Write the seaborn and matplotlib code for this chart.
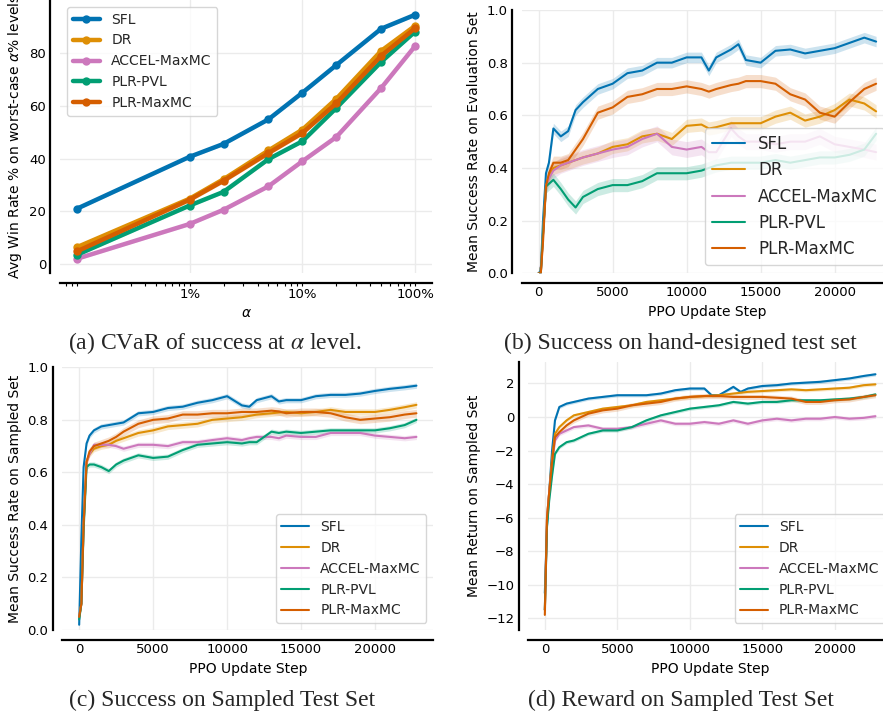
import matplotlib
matplotlib.use('Agg')
import matplotlib.pyplot as plt
import matplotlib.ticker as mticker
import seaborn as sns
import numpy as np
import pandas as pd

methods = ['SFL', 'DR', 'ACCEL-MaxMC', 'PLR-PVL', 'PLR-MaxMC']
colors = ['#0173b2', '#de8f05', '#cc78bc', '#029e73', '#d55e00']

# (a) CVaR of success, alpha in percent
alphas = [0.1, 1, 2, 5, 10, 20, 50, 100]
cvar_sfl = [21.0, 40.7, 45.6, 54.9, 65.0, 75.5, 89.3, 94.6]
cvar_dr = [6.4, 24.8, 32.2, 43.1, 51.0, 62.7, 80.9, 90.4]
cvar_accel = [2.0, 15.2, 20.6, 29.5, 39.0, 48.2, 66.8, 82.7]
cvar_pvl = [3.5, 22.2, 27.4, 39.8, 46.6, 59.2, 76.7, 88.2]
cvar_maxmc = [4.8, 24.4, 31.6, 42.1, 49.7, 61.0, 79.0, 89.5]
cvar_band = [0.6, 0.8, 0.6, 0.6, 0.8]

# PPO update steps shared by (b), (c), (d)
steps = [0, 150, 300, 500, 700, 1000, 1500, 2000, 2500, 3000, 4000, 5000,
         6000, 7000, 8000, 9000, 10000, 11000, 11500, 12000, 13000, 13500,
         14000, 15000, 16000, 17000, 18000, 19000, 20000, 21000, 22000, 22800]

# (b) success on hand-designed evaluation set
eval_sfl = [0.0, 0.01, 0.20, 0.38, 0.42, 0.55, 0.52, 0.54, 0.62, 0.65, 0.70, 0.72,
            0.76, 0.77, 0.80, 0.80, 0.82, 0.82, 0.77, 0.82, 0.85, 0.87,
            0.81, 0.80, 0.845, 0.85, 0.835, 0.845, 0.855, 0.875, 0.895, 0.88]
eval_dr = [0.0, 0.0, 0.15, 0.33, 0.37, 0.40, 0.41, 0.42, 0.43, 0.44, 0.455, 0.48,
           0.49, 0.52, 0.53, 0.51, 0.56, 0.565, 0.55, 0.555, 0.57, 0.57,
           0.57, 0.57, 0.595, 0.61, 0.58, 0.595, 0.62, 0.66, 0.645, 0.615]
eval_accel = [0.0, 0.0, 0.15, 0.33, 0.36, 0.39, 0.41, 0.42, 0.43, 0.44, 0.455, 0.47,
              0.48, 0.51, 0.53, 0.48, 0.47, 0.48, 0.46, 0.46, 0.55, 0.52,
              0.50, 0.50, 0.49, 0.50, 0.50, 0.52, 0.49, 0.48, 0.47, 0.46]
eval_pvl = [0.0, 0.0, 0.15, 0.33, 0.34, 0.355, 0.32, 0.28, 0.25, 0.29, 0.32, 0.335,
            0.335, 0.35, 0.38, 0.38, 0.38, 0.39, 0.40, 0.41, 0.42, 0.42,
            0.42, 0.42, 0.43, 0.42, 0.43, 0.44, 0.44, 0.45, 0.47, 0.53]
eval_maxmc = [0.0, 0.0, 0.12, 0.33, 0.38, 0.42, 0.42, 0.43, 0.47, 0.51, 0.61, 0.63,
              0.67, 0.68, 0.70, 0.70, 0.71, 0.70, 0.69, 0.70, 0.715, 0.72,
              0.73, 0.73, 0.72, 0.68, 0.66, 0.61, 0.595, 0.65, 0.70, 0.72]
eval_band = [0.02, 0.025, 0.03, 0.025, 0.025]

# (c) success on sampled test set
samp_sfl = [0.02, 0.35, 0.62, 0.71, 0.74, 0.76, 0.775, 0.78, 0.785, 0.79, 0.825, 0.83,
            0.845, 0.85, 0.865, 0.875, 0.89, 0.855, 0.85, 0.875, 0.89, 0.87,
            0.875, 0.875, 0.89, 0.895, 0.895, 0.90, 0.91, 0.918, 0.924, 0.93]
samp_dr = [0.05, 0.10, 0.40, 0.64, 0.67, 0.69, 0.70, 0.705, 0.72, 0.73, 0.75, 0.76,
           0.775, 0.78, 0.785, 0.80, 0.805, 0.81, 0.815, 0.82, 0.825, 0.828,
           0.83, 0.825, 0.83, 0.838, 0.83, 0.83, 0.83, 0.838, 0.848, 0.857]
samp_accel = [0.05, 0.10, 0.40, 0.64, 0.67, 0.705, 0.705, 0.705, 0.70, 0.69, 0.705, 0.705,
              0.70, 0.715, 0.715, 0.723, 0.73, 0.723, 0.73, 0.735, 0.735, 0.73,
              0.74, 0.735, 0.735, 0.75, 0.75, 0.75, 0.74, 0.735, 0.73, 0.735]
samp_pvl = [0.04, 0.10, 0.38, 0.62, 0.63, 0.63, 0.62, 0.605, 0.63, 0.645, 0.665, 0.655,
            0.66, 0.685, 0.705, 0.71, 0.715, 0.71, 0.715, 0.715, 0.755, 0.75,
            0.755, 0.75, 0.755, 0.76, 0.76, 0.76, 0.76, 0.768, 0.78, 0.80]
samp_maxmc = [0.05, 0.10, 0.40, 0.64, 0.68, 0.70, 0.71, 0.72, 0.735, 0.755, 0.785, 0.80,
              0.805, 0.82, 0.82, 0.825, 0.825, 0.83, 0.83, 0.83, 0.835, 0.832,
              0.825, 0.83, 0.83, 0.825, 0.81, 0.80, 0.805, 0.81, 0.82, 0.825]
samp_band = [0.01, 0.012, 0.01, 0.01, 0.015]

# (d) return on sampled test set
ret_sfl = [-10.5, -6.5, -4.5, -2.0, -0.2, 0.6, 0.8, 0.9, 1.0, 1.1, 1.2, 1.3,
           1.3, 1.3, 1.4, 1.6, 1.7, 1.7, 1.3, 1.3, 1.8, 1.5,
           1.7, 1.85, 1.9, 2.0, 2.05, 2.1, 2.2, 2.3, 2.45, 2.55]
ret_dr = [-11.5, -6.0, -4.5, -2.5, -1.0, -0.6, -0.2, 0.1, 0.2, 0.3, 0.5, 0.6,
          0.7, 0.9, 1.0, 1.1, 1.2, 1.25, 1.28, 1.3, 1.4, 1.45,
          1.5, 1.55, 1.6, 1.65, 1.6, 1.65, 1.7, 1.75, 1.9, 1.95]
ret_accel = [-11.5, -6.0, -4.5, -2.8, -1.4, -1.0, -0.8, -0.6, -0.55, -0.5, -0.7, -0.7,
             -0.6, -0.4, -0.2, -0.4, -0.4, -0.3, -0.35, -0.4, -0.2, -0.3,
             -0.4, -0.2, -0.1, -0.2, -0.1, -0.1, 0.0, -0.1, -0.05, 0.05]
ret_pvl = [-11.5, -6.5, -5.0, -3.5, -2.2, -1.8, -1.5, -1.4, -1.2, -1.0, -0.8, -0.8,
           -0.6, -0.2, 0.1, 0.3, 0.5, 0.6, 0.65, 0.7, 0.9, 0.85,
           0.8, 0.9, 0.9, 1.0, 1.0, 1.0, 1.05, 1.1, 1.2, 1.35]
ret_maxmc = [-11.8, -6.0, -4.5, -2.7, -1.2, -0.9, -0.5, -0.2, 0.0, 0.2, 0.4, 0.5,
             0.7, 0.8, 0.9, 1.1, 1.2, 1.25, 1.25, 1.25, 1.2, 1.2,
             1.2, 1.2, 1.15, 1.1, 0.9, 0.9, 1.0, 1.05, 1.2, 1.3]
ret_band = [0.1, 0.1, 0.12, 0.1, 0.15]

captions = ['(a) CVaR of success at $\\alpha$ level.',
            '(b) Success on hand-designed test set',
            '(c) Success on Sampled Test Set',
            '(d) Reward on Sampled Test Set']

sns.set_theme(style='whitegrid')
plt.rcParams.update({
    'font.family': ['DejaVu Sans'],
    'axes.edgecolor': 'black',
    'axes.linewidth': 1.6,
    'grid.color': '#ebebeb',
    'grid.linewidth': 1.0,
    'xtick.labelsize': 9.5,
    'ytick.labelsize': 9.5,
    'axes.labelsize': 10,
    'xtick.major.size': 0,
    'ytick.major.size': 0,
    'xtick.major.pad': 2.5,
    'ytick.major.pad': 3,
    'axes.labelcolor': 'black',
    'xtick.color': 'black',
    'ytick.color': 'black',
})

W, H = 883, 719
fig = plt.figure(figsize=(W / 100, H / 100), dpi=100)
palette = dict(zip(methods, colors))


def px_axes(left, top, right, bottom):
    return fig.add_axes([left / W, 1 - bottom / H, (right - left) / W, (bottom - top) / H])


def draw_curves(ax, x, series, bands, lw, **kw):
    df = pd.DataFrame({
        'x': np.tile(x, len(methods)),
        'y': np.concatenate(series),
        'method': np.repeat(methods, len(x)),
    })
    sns.lineplot(data=df, x='x', y='y', hue='method', hue_order=methods,
                 palette=palette, linewidth=lw, errorbar=None, ax=ax, **kw)
    for ys, b, c in zip(series, bands, colors):
        ys = np.asarray(ys)
        ax.fill_between(x, ys - b, ys + b, color=c, alpha=0.2, linewidth=0)


# (a)
ax = px_axes(60, 0, 432, 273)
draw_curves(ax, alphas, [cvar_sfl, cvar_dr, cvar_accel, cvar_pvl, cvar_maxmc],
            cvar_band, 3.2, marker='o', markersize=6, markeredgewidth=0)
ax.set_xscale('log')
ax.xaxis.set_major_locator(mticker.FixedLocator([1, 10, 100]))
ax.xaxis.set_major_formatter(mticker.FuncFormatter(lambda v, p: f'{v:g}%'))
ax.xaxis.set_minor_locator(mticker.LogLocator(base=10, subs=range(1, 10)))
ax.xaxis.set_minor_formatter(mticker.NullFormatter())
ax.tick_params(axis='x', which='both', bottom=True, length=2, width=0.8, pad=1.5)
ax.set_ylim(-3.4, 100.2)
ax.set_yticks([0, 20, 40, 60, 80])
ax.set_xlabel('$\\alpha$')
ax.set_ylabel('Avg Win Rate % on worst-case $\\alpha$% levels')
sns.move_legend(ax, 'upper left', title=None, fontsize=10, frameon=True)
sns.despine(ax=ax, offset=7)

# (b)
ax = px_axes(521.7, 10, 893, 273.3)
draw_curves(ax, steps, [eval_sfl, eval_dr, eval_accel, eval_pvl, eval_maxmc],
            eval_band, 1.5)
ax.set_ylim(0, 1)
ax.set_xlabel('PPO Update Step')
ax.set_ylabel('Mean Success Rate on Evaluation Set')
sns.move_legend(ax, 'lower right', title=None, fontsize=12, frameon=True)
sns.despine(ax=ax, offset=7)

# (c)
ax = px_axes(62.3, 367.3, 433.3, 630)
draw_curves(ax, steps, [samp_sfl, samp_dr, samp_accel, samp_pvl, samp_maxmc],
            samp_band, 1.5)
ax.set_ylim(0, 1)
ax.set_xlabel('PPO Update Step')
ax.set_ylabel('Mean Success Rate on Sampled Set')
sns.move_legend(ax, 'lower right', title=None, fontsize=10, frameon=True)
sns.despine(ax=ax, offset=7)

# (d)
ax = px_axes(528.3, 361.7, 892, 630)
draw_curves(ax, steps, [ret_sfl, ret_dr, ret_accel, ret_pvl, ret_maxmc],
            ret_band, 1.5)
ax.set_ylim(-12.7, 3.3)
ax.set_xlabel('PPO Update Step')
ax.set_ylabel('Mean Return on Sampled Set')
sns.move_legend(ax, 'lower right', title=None, fontsize=10, frameon=True)
sns.despine(ax=ax, offset=7)

# captions under each panel
for (cx, cy), text in zip([(215, 343), (680, 343), (222, 700), (681, 700)], captions):
    fig.text(cx / W, 1 - cy / H, text, ha='center', va='center', fontsize=17,
             family='Liberation Serif', math_fontfamily='stix')

fig.savefig('out.png', dpi=100)
